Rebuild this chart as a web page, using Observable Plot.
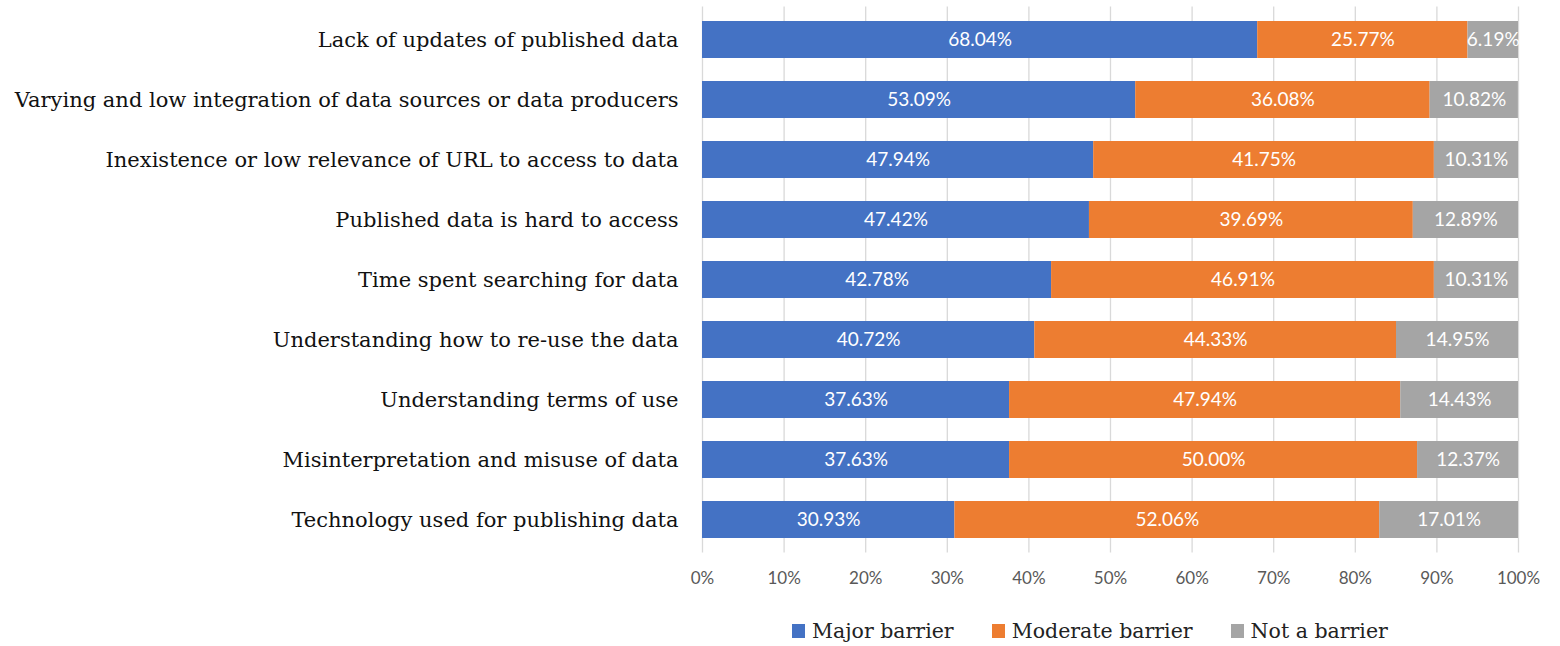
<!DOCTYPE html>
<html>
<head>
<meta charset="utf-8">
<script src="https://cdn.jsdelivr.net/npm/d3@7"></script>
<script src="https://cdn.jsdelivr.net/npm/@observablehq/plot@0.6"></script>
<style>
  html, body { margin: 0; padding: 0; background: #fff; }
  #chart { position: relative; width: 1560px; height: 646px; }
  #legend { position: absolute; top: 619px; left: 792px; display: flex; align-items: center;
    font-family: "DejaVu Serif", serif; font-size: 20.5px; color: #222; line-height: 24px; }
  .item { display: flex; align-items: center; margin-right: 38px; }
  .sw { width: 13px; height: 14px; margin-right: 7px; }
</style>
</head>
<body>
<div id="chart"></div>
<script>
const categories = [
  "Lack of updates of published data",
  "Varying and low integration of data sources or data producers",
  "Inexistence or low relevance of URL to access to data",
  "Published data is hard to access",
  "Time spent searching for data",
  "Understanding how to re-use the data",
  "Understanding terms of use",
  "Misinterpretation and misuse of data",
  "Technology used for publishing data"
];
const seriesNames = ["Major barrier", "Moderate barrier", "Not a barrier"];
const seriesColors = ["#4472C4", "#ED7D31", "#A5A5A5"];
const major = [68.04, 53.09, 47.94, 47.42, 42.78, 40.72, 37.63, 37.63, 30.93];
const moderate = [25.77, 36.08, 41.75, 39.69, 46.91, 44.33, 47.94, 50.00, 52.06];
const notBarrier = [6.19, 10.82, 10.31, 12.89, 10.31, 14.95, 14.43, 12.37, 17.01];
const xTicks = [0, 10, 20, 30, 40, 50, 60, 70, 80, 90, 100];

const seriesValues = [major, moderate, notBarrier];
const data = [];
categories.forEach((c, i) => {
  seriesNames.forEach((s, j) => data.push({category: c, series: s, value: seriesValues[j][i]}));
});

const plot = Plot.plot({
  width: 1560,
  height: 605,
  marginTop: 6.5,
  marginBottom: 52.5,
  marginLeft: 702,
  marginRight: 42,
  style: {background: "#fff"},
  x: {domain: [0, 100]},
  y: {domain: categories, paddingInner: 0.39, paddingOuter: 0.195},
  color: {domain: seriesNames, range: seriesColors},
  marks: [
    Plot.gridX(xTicks, {stroke: "#d9d9d9", strokeOpacity: 1, strokeWidth: 1.3}),
    Plot.barX(data, {x: "value", y: "category", fill: "series", order: seriesNames}),
    Plot.text(data, Plot.stackX({x: "value", y: "category", z: "series", order: seriesNames,
      text: d => d.value.toFixed(2) + "%", fill: "white",
      fontFamily: "Lato, sans-serif", fontSize: 19})),
    Plot.axisX({ticks: xTicks, tickFormat: d => d + "%", tickSize: 0, tickPadding: 19,
      fontFamily: "Lato, sans-serif", fontSize: 17, color: "#595959", label: null}),
    Plot.axisY({tickSize: 0, tickPadding: 24, fontFamily: "DejaVu Serif, serif",
      fontSize: 21, color: "#111", label: null})
  ]
});
document.getElementById("chart").appendChild(plot);

const legend = document.createElement("div");
legend.id = "legend";
seriesNames.forEach((s, j) => {
  const it = document.createElement("div");
  it.className = "item";
  const sw = document.createElement("span");
  sw.className = "sw";
  sw.style.background = seriesColors[j];
  const t = document.createElement("span");
  t.textContent = s;
  it.appendChild(sw); it.appendChild(t);
  legend.appendChild(it);
});
document.getElementById("chart").appendChild(legend);
</script>
</body>
</html>
